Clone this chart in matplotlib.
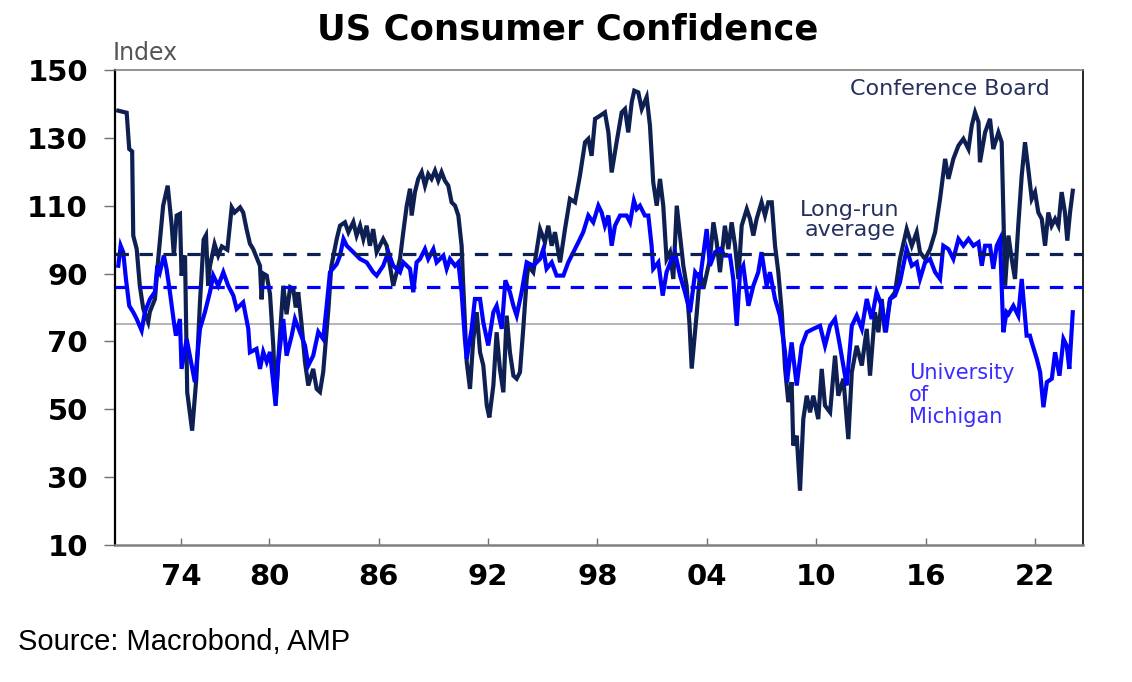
import matplotlib
matplotlib.use("Agg")
import matplotlib.pyplot as plt
from matplotlib.font_manager import FontProperties

# ---------------- data (decimal years, index values) ----------------
cb_years = [1971.72, 1972.18, 1972.32, 1972.48, 1972.54, 1972.73, 1972.90, 1973.09, 1973.36, 1973.45,
            1973.73, 1973.91, 1974.18, 1974.43, 1974.65, 1974.77, 1974.92, 1975.10, 1975.19, 1975.38,
            1975.50, 1975.77, 1976.00, 1976.20, 1976.40, 1976.53, 1976.65, 1976.75, 1977.00, 1977.20,
            1977.40, 1977.70, 1977.94, 1978.10, 1978.40, 1978.57, 1978.76, 1978.94, 1979.12, 1979.30,
            1979.49, 1979.58, 1979.67, 1979.86, 1980.04, 1980.22, 1980.35, 1980.50, 1980.77, 1980.95,
            1981.15, 1981.32, 1981.45, 1981.59, 1981.78, 1981.96, 1982.14, 1982.41, 1982.60, 1982.78,
            1982.96, 1983.15, 1983.25, 1983.40, 1983.70, 1983.88, 1984.15, 1984.34, 1984.61, 1984.79,
            1984.98, 1985.16, 1985.34, 1985.52, 1985.70, 1985.89, 1986.25, 1986.44, 1986.62, 1986.80,
            1986.99, 1987.17, 1987.35, 1987.54, 1987.72, 1987.81, 1987.99, 1988.17, 1988.36, 1988.54,
            1988.72, 1988.90, 1989.09, 1989.27, 1989.45, 1989.63, 1989.82, 1990.00, 1990.19, 1990.37,
            1990.55, 1990.64, 1990.83, 1991.01, 1991.19, 1991.38, 1991.56, 1991.74, 1991.93, 1992.07,
            1992.29, 1992.47, 1992.65, 1992.84, 1993.02, 1993.20, 1993.39, 1993.57, 1993.75, 1993.93,
            1994.12, 1994.21, 1994.48, 1994.85, 1995.12, 1995.30, 1995.49, 1995.67, 1995.95, 1996.22,
            1996.49, 1996.77, 1997.04, 1997.32, 1997.50, 1997.68, 1997.87, 1998.14, 1998.41, 1998.60,
            1998.78, 1999.05, 1999.33, 1999.51, 1999.69, 1999.88, 2000.02, 2000.24, 2000.43, 2000.70,
            2000.88, 2001.06, 2001.25, 2001.43, 2001.61, 2001.79, 2001.98, 2002.16, 2002.35, 2002.53,
            2002.71, 2002.89, 2003.05, 2003.17, 2003.45, 2003.63, 2003.81, 2004.17, 2004.36, 2004.54,
            2004.72, 2004.99, 2005.18, 2005.36, 2005.55, 2005.73, 2005.91, 2006.19, 2006.37, 2006.55,
            2006.73, 2007.00, 2007.19, 2007.37, 2007.56, 2007.74, 2007.92, 2008.11, 2008.29, 2008.47,
            2008.65, 2008.74, 2008.93, 2009.11, 2009.29, 2009.48, 2009.66, 2009.84, 2010.11, 2010.30,
            2010.48, 2010.76, 2011.03, 2011.21, 2011.49, 2011.76, 2011.95, 2012.22, 2012.50, 2012.77,
            2012.95, 2013.22, 2013.41, 2013.59, 2013.77, 2014.05, 2014.32, 2014.59, 2014.96, 2015.24,
            2015.51, 2015.69, 2015.97, 2016.24, 2016.52, 2016.79, 2017.07, 2017.25, 2017.52, 2017.80,
            2018.07, 2018.35, 2018.53, 2018.71, 2018.90, 2018.98, 2019.26, 2019.53, 2019.71, 2019.99,
            2020.17, 2020.36, 2020.54, 2020.72, 2020.90, 2021.08, 2021.27, 2021.45, 2021.63, 2021.82,
            2022.00, 2022.18, 2022.37, 2022.55, 2022.73, 2022.91, 2023.10, 2023.28, 2023.46, 2023.64,
            2023.77, 2023.92, 2024.07]
cb_values = [138.0, 137.4, 126.7, 126.0, 101.2, 97.2, 86.4, 79.6, 75.7, 78.7,
             82.5, 94.3, 110.0, 115.9, 104.1, 95.3, 107.1, 107.6, 89.4, 95.3,
             55.0, 43.7, 59.0, 81.6, 100.0, 101.3, 86.4, 92.3, 98.7, 95.3,
             98.0, 97.0, 109.5, 108.0, 109.5, 108.0, 103.0, 98.8, 97.2, 94.8,
             92.3, 82.4, 90.0, 89.4, 84.0, 68.8, 52.0, 65.0, 86.4, 78.0,
             86.0, 85.5, 80.0, 84.5, 74.6, 63.9, 57.0, 61.9, 56.0, 55.1,
             61.0, 73.7, 80.0, 92.0, 100.2, 104.1, 105.1, 102.2, 105.2, 101.2,
             104.1, 100.2, 104.1, 98.2, 103.1, 96.3, 100.2, 98.2, 92.3, 86.4,
             90.4, 94.3, 102.2, 110.0, 115.0, 107.1, 114.0, 117.9, 119.9, 115.9,
             119.3, 117.9, 120.3, 117.4, 119.9, 117.4, 115.9, 111.0, 110.0, 107.1,
             98.2, 86.4, 63.9, 56.0, 70.7, 78.6, 66.8, 62.9, 51.1, 47.6,
             57.0, 72.7, 61.9, 55.0, 77.6, 66.8, 59.9, 59.0, 60.9, 73.7,
             88.4, 92.3, 90.4, 103.1, 99.2, 104.1, 98.2, 102.2, 93.3, 103.1,
             112.0, 111.0, 118.9, 128.7, 129.7, 124.7, 135.6, 136.5, 137.5, 131.6,
             119.8, 128.7, 137.5, 138.5, 131.6, 140.5, 143.9, 143.4, 138.5, 142.0,
             133.6, 116.9, 110.0, 117.9, 110.0, 94.3, 96.3, 88.4, 110.0, 101.2,
             92.3, 86.4, 75.0, 62.0, 78.6, 90.4, 85.5, 94.3, 105.1, 99.2,
             90.4, 104.1, 97.2, 105.1, 98.2, 88.4, 104.1, 109.0, 106.1, 101.2,
             106.1, 111.0, 107.1, 111.0, 111.0, 98.2, 90.4, 78.6, 62.0, 52.1,
             58.0, 39.3, 42.2, 26.0, 47.1, 54.0, 49.1, 54.0, 47.1, 61.9,
             51.1, 49.1, 65.8, 54.0, 59.0, 41.2, 60.9, 68.7, 62.9, 73.7,
             59.9, 78.6, 72.7, 82.5, 72.7, 82.5, 84.5, 94.3, 103.1, 98.2,
             102.2, 96.3, 94.3, 97.2, 102.2, 112.0, 123.8, 117.9, 123.8, 127.7,
             129.7, 126.7, 133.6, 137.5, 134.6, 122.8, 131.6, 135.6, 126.7, 131.6,
             128.7, 86.4, 101.2, 94.3, 88.4, 104.1, 118.9, 128.7, 120.8, 112.0,
             114.0, 108.0, 106.1, 98.2, 108.0, 104.1, 106.1, 104.1, 114.0, 108.0,
             99.7, 108.0, 114.4]

um_years = [1971.72, 1971.85, 1971.99, 1972.14, 1972.32, 1972.54, 1972.73, 1973.00, 1973.18, 1973.46,
            1973.73, 1973.86, 1974.00, 1974.22, 1974.37, 1974.55, 1974.77, 1974.88, 1975.10, 1975.19,
            1975.47, 1975.92, 1976.20, 1976.47, 1976.75, 1976.93, 1977.20, 1977.48, 1977.75, 1978.03,
            1978.21, 1978.57, 1978.85, 1978.94, 1979.30, 1979.49, 1979.67, 1979.86, 1980.04, 1980.35,
            1980.49, 1980.77, 1980.95, 1981.23, 1981.41, 1981.68, 1981.96, 1982.14, 1982.41, 1982.69,
            1982.96, 1983.15, 1983.33, 1983.70, 1983.88, 1984.07, 1984.25, 1984.61, 1984.98, 1985.34,
            1985.70, 1985.89, 1986.25, 1986.53, 1986.80, 1987.17, 1987.35, 1987.72, 1987.90, 1988.08,
            1988.27, 1988.54, 1988.72, 1989.00, 1989.18, 1989.55, 1989.73, 1989.91, 1990.19, 1990.37,
            1990.55, 1990.73, 1990.83, 1991.10, 1991.28, 1991.56, 1991.74, 1992.01, 1992.29, 1992.47,
            1992.75, 1992.95, 1993.20, 1993.39, 1993.57, 1993.84, 1994.12, 1994.48, 1994.85, 1995.03,
            1995.21, 1995.49, 1995.76, 1996.13, 1996.40, 1996.68, 1996.95, 1997.22, 1997.50, 1997.77,
            1998.05, 1998.23, 1998.41, 1998.60, 1998.78, 1998.96, 1999.24, 1999.60, 1999.79, 2000.00,
            2000.15, 2000.33, 2000.60, 2000.79, 2000.97, 2001.06, 2001.34, 2001.58, 2001.79, 2002.07,
            2002.25, 2002.53, 2002.80, 2003.08, 2003.36, 2003.63, 2003.99, 2004.17, 2004.45, 2004.72,
            2004.99, 2005.27, 2005.45, 2005.64, 2005.82, 2006.00, 2006.28, 2006.55, 2006.82, 2007.00,
            2007.28, 2007.46, 2007.74, 2008.01, 2008.29, 2008.40, 2008.65, 2008.93, 2009.20, 2009.48,
            2009.84, 2010.21, 2010.48, 2010.76, 2011.03, 2011.30, 2011.67, 2011.95, 2012.22, 2012.50,
            2012.77, 2013.04, 2013.31, 2013.59, 2013.82, 2014.05, 2014.32, 2014.59, 2014.96, 2015.24,
            2015.51, 2015.69, 2015.97, 2016.24, 2016.52, 2016.79, 2016.97, 2017.25, 2017.52, 2017.80,
            2018.07, 2018.35, 2018.62, 2018.90, 2019.08, 2019.26, 2019.53, 2019.71, 2019.90, 2020.08,
            2020.26, 2020.44, 2020.54, 2020.81, 2021.08, 2021.27, 2021.54, 2021.72, 2021.82, 2022.10,
            2022.28, 2022.46, 2022.65, 2022.92, 2023.10, 2023.34, 2023.56, 2023.74, 2023.88, 2024.07]
um_values = [92.3, 98.2, 96.3, 88.4, 80.5, 78.6, 76.6, 73.2, 78.7, 82.5,
             84.6, 92.3, 90.4, 95.3, 91.3, 84.6, 75.7, 71.7, 76.6, 61.9,
             70.7, 58.0, 73.7, 78.6, 84.6, 89.4, 86.4, 90.4, 86.4, 83.5,
             79.6, 81.5, 73.7, 66.8, 67.8, 61.9, 66.9, 64.0, 66.9, 51.0,
             64.0, 76.6, 65.8, 71.7, 76.6, 72.8, 68.8, 62.9, 65.8, 72.8,
             70.7, 80.5, 90.4, 92.8, 95.3, 100.2, 98.2, 96.3, 94.3, 93.3,
             90.4, 89.4, 92.3, 96.3, 92.3, 90.4, 93.3, 91.4, 84.5, 93.3,
             94.3, 97.2, 94.3, 97.2, 93.3, 95.3, 91.4, 94.3, 92.3, 93.3,
             84.5, 70.7, 64.8, 73.7, 82.5, 82.5, 75.6, 68.8, 78.6, 80.5,
             73.7, 88.0, 84.5, 80.5, 77.6, 84.5, 93.3, 92.3, 94.3, 97.2,
             91.4, 93.3, 89.4, 89.4, 93.3, 96.3, 99.2, 102.2, 107.1, 105.1,
             110.0, 108.0, 104.1, 107.1, 98.2, 104.1, 107.1, 107.1, 105.1, 111.5,
             109.0, 110.0, 107.1, 107.1, 98.2, 91.4, 93.3, 83.5, 90.4, 94.3,
             96.3, 89.4, 84.5, 78.6, 90.4, 88.4, 103.1, 92.3, 96.3, 97.2,
             95.3, 95.3, 88.4, 74.6, 90.4, 92.3, 80.5, 86.4, 90.4, 96.3,
             86.4, 90.4, 82.5, 77.6, 66.8, 58.0, 69.7, 57.0, 68.7, 72.7,
             73.7, 74.6, 68.7, 74.6, 76.6, 68.7, 57.0, 74.6, 77.6, 73.7,
             82.5, 76.6, 84.5, 80.5, 72.7, 82.5, 83.5, 87.4, 97.2, 92.3,
             93.3, 88.4, 93.3, 94.3, 90.4, 88.4, 98.2, 97.2, 94.3, 100.2,
             98.2, 100.2, 98.2, 99.2, 92.3, 98.2, 98.2, 91.4, 98.2, 100.2,
             72.7, 78.6, 78.0, 80.5, 77.6, 88.4, 71.7, 71.7, 69.7, 64.8,
             60.9, 50.6, 58.0, 59.0, 66.8, 59.9, 70.7, 68.7, 61.9, 78.6]

cb_long_run_avg = 95.9
um_long_run_avg = 86.0
ref_level = 75.0

x_tick_pos = [1975.15, 1980, 1986, 1992, 1998, 2004, 2010, 2016, 2022]
x_tick_labels = ["74", "80", "86", "92", "98", "04", "10", "16", "22"]
y_ticks = [10, 30, 50, 70, 90, 110, 130, 150]

# ---------------- figure ----------------
NAVY = "#0e1f52"
BLUE = "#0000ff"

fig = plt.figure(figsize=(11.32, 6.82), dpi=100)
ax = fig.add_axes([0.1016, 0.2009, 0.8551, 0.6965])

ax.axhline(ref_level, color="#b4b4b4", lw=1.4, zorder=1)
ax.plot(cb_years, cb_values, color=NAVY, lw=3.0, zorder=2, solid_joinstyle="miter")
ax.plot(um_years, um_values, color=BLUE, lw=3.0, zorder=3, solid_joinstyle="miter")
ax.axhline(cb_long_run_avg, color=NAVY, lw=2.3, dashes=(4.2, 3.3), zorder=4)
ax.axhline(um_long_run_avg, color=BLUE, lw=2.3, dashes=(4.2, 3.3), zorder=4)

ax.set_xlim(1971.54, 2024.63)
ax.set_ylim(10, 150)

ax.set_yticks(y_ticks)
ax.set_yticklabels([str(v) for v in y_ticks])
ax.set_xticks(x_tick_pos)
ax.set_xticklabels(x_tick_labels)

tick_fp = FontProperties(family="DejaVu Sans", weight="bold", size=21)
for lab in ax.get_yticklabels() + ax.get_xticklabels():
    lab.set_fontproperties(tick_fp)
    lab.set_color("black")

ax.tick_params(axis="y", direction="out", length=8, width=1.0, color="#707070", pad=11.5)
ax.tick_params(axis="x", direction="in", length=5, width=1.0, color="#707070", pad=13)

ax.spines["left"].set_color("black")
ax.spines["left"].set_linewidth(1.6)
ax.spines["right"].set_color("black")
ax.spines["right"].set_linewidth(1.2)
ax.spines["top"].set_color("#808080")
ax.spines["top"].set_linewidth(1.2)
ax.spines["bottom"].set_color("#808080")
ax.spines["bottom"].set_linewidth(1.8)

# ---------------- texts ----------------
W, H = 1132, 682
def fx(px):
    return px / W
def fy(py):
    return 1 - py / H

fig.text(fx(568), fy(29), "US Consumer Confidence", ha="center", va="center",
         family="DejaVu Sans", weight="bold", size=25.5, color="black")
fig.text(fx(113), fy(60), "Index", ha="left", va="baseline",
         family="DejaVu Sans", size=17, color="#555555")
fig.text(fx(850), fy(89), "Conference Board", ha="left", va="center",
         family="DejaVu Sans", size=16, color="#26305e")
fig.text(fx(850), fy(220), "Long-run\naverage", ha="center", va="center",
         multialignment="center", linespacing=1.0,
         family="DejaVu Sans", size=16, color="#26305e")
fig.text(fx(909), fy(395), "University\nof\nMichigan", ha="left", va="center",
         linespacing=1.1, family="DejaVu Sans", size=15, color="#3a2cff")
fig.text(fx(18), fy(642), "Source: Macrobond, AMP", ha="left", va="center",
         family="Liberation Sans", size=21, color="black")

fig.savefig("out.png", dpi=100)
